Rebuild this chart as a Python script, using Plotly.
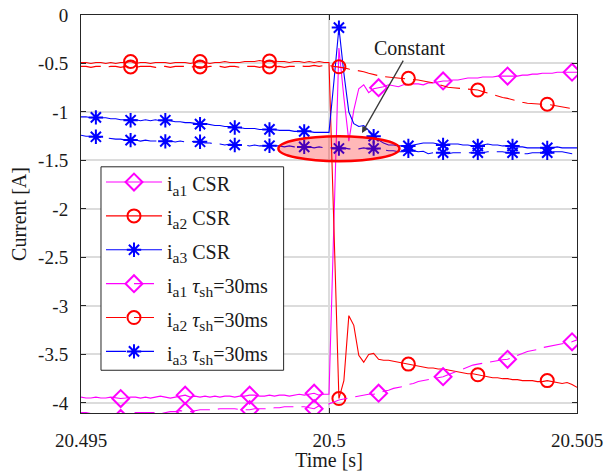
import numpy as np
import plotly.graph_objects as go

# time grid (s), 0.1 ms sampling around the switching instant
time_s = np.round(20.495 + np.arange(101) * 1e-4, 5)

ia1_csr = [-3.94, -3.95, -3.95, -3.94, -3.95, -3.95, -3.94, -3.95, -3.955, -3.95,
           -3.94, -3.94, -3.95, -3.94, -3.95, -3.94, -3.93, -3.94, -3.95, -3.94,
           -3.93, -3.92, -3.94, -3.93, -3.94, -3.93, -3.94, -3.93, -3.94, -3.93,
           -3.93, -3.94, -3.93, -3.93, -3.92, -3.92, -3.93, -3.93, -3.92, -3.93,
           -3.92, -3.92, -3.93, -3.92, -3.91, -3.92, -3.91, -3.90, -3.92, -3.91,
           -3.91, -2.10, -0.34, -0.85, -1.30, -0.98, -0.76, -0.72, -0.80, -0.76,
           -0.75, -0.74, -0.72, -0.73, -0.74, -0.72, -0.72, -0.71, -0.71, -0.72,
           -0.70, -0.70, -0.69, -0.68, -0.68, -0.67, -0.67, -0.66, -0.65, -0.65,
           -0.65, -0.64, -0.64, -0.64, -0.63, -0.63, -0.63, -0.63, -0.63, -0.62,
           -0.62, -0.61, -0.61, -0.60, -0.60, -0.60, -0.59, -0.59, -0.59, -0.59, -0.59]

ia2_csr = [-0.49, -0.49, -0.50, -0.49, -0.49, -0.50, -0.49, -0.50, -0.49, -0.49,
           -0.48, -0.50, -0.49, -0.49, -0.50, -0.49, -0.49, -0.49, -0.50, -0.49,
           -0.49, -0.49, -0.50, -0.49, -0.48, -0.49, -0.50, -0.49, -0.49, -0.48,
           -0.49, -0.49, -0.49, -0.48, -0.48, -0.48, -0.47, -0.48, -0.475, -0.48,
           -0.48, -0.48, -0.49, -0.48, -0.48, -0.49, -0.48, -0.49, -0.48, -0.49,
           -0.49, -2.20, -3.955, -3.77, -3.10, -3.20, -3.51, -3.58, -3.50, -3.49,
           -3.55, -3.56, -3.56, -3.57, -3.58, -3.59, -3.60, -3.61, -3.62, -3.63,
           -3.64, -3.64, -3.65, -3.65, -3.66, -3.67, -3.68, -3.69, -3.70, -3.70,
           -3.71, -3.72, -3.73, -3.74, -3.74, -3.75, -3.75, -3.76, -3.76, -3.77,
           -3.77, -3.77, -3.78, -3.78, -3.77, -3.78, -3.79, -3.80, -3.79, -3.81, -3.84]

ia3_csr = [-1.05, -1.05, -1.06, -1.056, -1.06, -1.06, -1.07, -1.07, -1.08, -1.08,
           -1.085, -1.08, -1.09, -1.08, -1.09, -1.08, -1.09, -1.085, -1.09, -1.10,
           -1.10, -1.11, -1.11, -1.12, -1.125, -1.12, -1.13, -1.14, -1.14, -1.15,
           -1.15, -1.16, -1.16, -1.17, -1.17, -1.17, -1.18, -1.18, -1.18, -1.18,
           -1.19, -1.19, -1.19, -1.20, -1.20, -1.20, -1.20, -1.21, -1.21, -1.21,
           -1.21, -0.68, -0.13, -0.60, -1.00, -1.12, -1.15, -1.14, -1.19, -1.25,
           -1.29, -1.32, -1.34, -1.34, -1.35, -1.35, -1.35, -1.34, -1.33, -1.32,
           -1.32, -1.32, -1.33, -1.34, -1.33, -1.33, -1.33, -1.34, -1.34, -1.35,
           -1.35, -1.34, -1.33, -1.34, -1.34, -1.35, -1.35, -1.35, -1.36, -1.36,
           -1.37, -1.37, -1.37, -1.37, -1.37, -1.37, -1.36, -1.37, -1.37, -1.37, -1.37]

ia1_tsh = [-4.10, -4.10, -4.11, -4.11, -4.12, -4.12, -4.13, -4.14, -4.16, -4.12,
           -4.10, -4.10, -4.10, -4.10, -4.10, -4.10, -4.11, -4.10, -4.09, -4.09,
           -4.08, -4.09, -4.09, -4.08, -4.07, -4.07, -4.07, -4.07, -4.06, -4.06,
           -4.06, -4.06, -4.07, -4.07, -4.07, -4.06, -4.06, -4.06, -4.06, -4.05,
           -4.05, -4.04, -4.04, -4.04, -4.04, -4.04, -4.05, -4.06, -4.03, -4.02,
           -4.01, -3.99, -3.97, -3.96, -3.95, -3.94, -3.93, -3.92, -3.91, -3.91,
           -3.90, -3.88, -3.87, -3.85, -3.84, -3.83, -3.81, -3.80, -3.78, -3.77,
           -3.76, -3.75, -3.74, -3.73, -3.71, -3.69, -3.67, -3.65, -3.63, -3.61,
           -3.60, -3.59, -3.58, -3.57, -3.56, -3.555, -3.55, -3.53, -3.51, -3.49,
           -3.47, -3.46, -3.45, -3.43, -3.42, -3.41, -3.40, -3.39, -3.38, -3.37, -3.35]

ia2_tsh = [-0.53, -0.53, -0.54, -0.53, -0.53, -0.54, -0.53, -0.53, -0.54, -0.53,
           -0.535, -0.54, -0.53, -0.53, -0.53, -0.54, -0.53, -0.53, -0.54, -0.53,
           -0.53, -0.53, -0.54, -0.53, -0.535, -0.54, -0.53, -0.53, -0.53, -0.54,
           -0.53, -0.53, -0.54, -0.53, -0.53, -0.53, -0.54, -0.53, -0.535, -0.53,
           -0.53, -0.54, -0.53, -0.53, -0.52, -0.53, -0.53, -0.52, -0.53, -0.52,
           -0.52, -0.53, -0.534, -0.545, -0.557, -0.565, -0.575, -0.585, -0.60, -0.615,
           -0.626, -0.635, -0.64, -0.645, -0.648, -0.65, -0.653, -0.66, -0.67, -0.68,
           -0.688, -0.70, -0.715, -0.73, -0.745, -0.75, -0.755, -0.76, -0.765, -0.77,
           -0.774, -0.79, -0.805, -0.826, -0.84, -0.85, -0.86, -0.875, -0.89, -0.90,
           -0.91, -0.915, -0.92, -0.92, -0.92, -0.93, -0.94, -0.95, -0.96, -0.965, -0.97]

ia3_tsh = [-1.24, -1.25, -1.25, -1.256, -1.26, -1.27, -1.27, -1.28, -1.28, -1.29,
           -1.29, -1.29, -1.30, -1.29, -1.30, -1.30, -1.30, -1.303, -1.30, -1.31,
           -1.30, -1.31, -1.30, -1.31, -1.307, -1.32, -1.32, -1.33, -1.33, -1.34,
           -1.33, -1.34, -1.34, -1.34, -1.35, -1.34, -1.35, -1.35, -1.348, -1.35,
           -1.35, -1.36, -1.35, -1.36, -1.36, -1.36, -1.36, -1.37, -1.36, -1.37,
           -1.37, -1.37, -1.376, -1.37, -1.38, -1.38, -1.38, -1.37, -1.38, -1.376,
           -1.38, -1.39, -1.40, -1.40, -1.41, -1.41, -1.40, -1.40, -1.41, -1.405,
           -1.43, -1.42, -1.42, -1.42, -1.43, -1.42, -1.42, -1.42, -1.42, -1.42,
           -1.42, -1.42, -1.41, -1.41, -1.41, -1.41, -1.42, -1.42, -1.43, -1.43,
           -1.43, -1.42, -1.42, -1.42, -1.42, -1.41, -1.41, -1.41, -1.42, -1.43, -1.43]

# sample indices that carry a marker (every 13 / 14 / 7 samples)
marker_idx_a1 = [8, 21, 34, 47, 60, 73, 86, 99]
marker_idx_a2 = [10, 24, 38, 52, 66, 80, 94]
marker_idx_a3 = [3, 10, 17, 24, 31, 38, 45, 52, 59, 66, 73, 80, 87, 94]

x_ticks = [20.495, 20.5, 20.505]
x_ticktext = ["20.495", "20.5", "20.505"]
y_ticks = [-4, -3.5, -3, -2.5, -2, -1.5, -1, -0.5, 0]
y_ticktext = ["-4", "-3.5", "-3", "-2.5", "-2", "-1.5", "-1", "-0.5", "0"]

MAG, RED, BLUE = "#FF00FF", "#FF0000", "#0000FF"
DASH = "20px,8px"

SUB = '<sub><span style="font-size:15.5px">%s</span></sub>'
series = [
    (ia1_csr, "i" + SUB % "a1" + " CSR", MAG, "solid", "diamond-open", 13, marker_idx_a1),
    (ia2_csr, "i" + SUB % "a2" + " CSR", RED, "solid", "circle-open", 13, marker_idx_a2),
    (ia3_csr, "i" + SUB % "a3" + " CSR", BLUE, "solid", "asterisk-open", 12, marker_idx_a3),
    (ia1_tsh, "i" + SUB % "a1" + " <i>τ</i>" + SUB % "sh" + "=30ms", MAG, DASH, "diamond-open", 13, marker_idx_a1),
    (ia2_tsh, "i" + SUB % "a2" + " <i>τ</i>" + SUB % "sh" + "=30ms", RED, DASH, "circle-open", 13, marker_idx_a2),
    (ia3_tsh, "i" + SUB % "a3" + " <i>τ</i>" + SUB % "sh" + "=30ms", BLUE, DASH, "asterisk-open", 12, marker_idx_a3),
]

fig = go.Figure()
for vals, name, color, dash, sym, msize, idx in series:
    v = np.array(vals)
    mk = dict(symbol=sym, size=msize, color=color, line=dict(color=color, width=2))
    ln = dict(color=color, width=1.1, dash=dash)
    fig.add_trace(go.Scatter(x=time_s, y=v, mode="lines", line=ln,
                             showlegend=False, hoverinfo="skip"))
    fig.add_trace(go.Scatter(x=time_s[idx], y=v[idx], mode="markers", marker=mk,
                             showlegend=False, hoverinfo="skip"))
    fig.add_trace(go.Scatter(x=[None], y=[None], mode="lines+markers", line=ln, marker=mk,
                             name='<span style="font-size:20px">' + name + "</span>"))

AX = "#262626"
GRID = "#DCDCDC"
fig.update_layout(
    width=616, height=471,
    margin=dict(l=81, r=39, t=15, b=58, autoexpand=False),
    paper_bgcolor="white", plot_bgcolor="white",
    font=dict(family="Liberation Serif", size=19, color="#1a1a1a"),
    xaxis=dict(range=[20.495, 20.505], tickvals=x_ticks, ticktext=x_ticktext,
               automargin=False,
               showgrid=True, gridcolor=GRID, gridwidth=1.5, zeroline=False,
               showline=True, linecolor=AX, linewidth=1, mirror="ticks",
               ticks="inside", ticklen=5, tickcolor=AX, ticklabelstandoff=10,
               title=dict(text="Time [s]", font=dict(size=20), standoff=1)),
    yaxis=dict(range=[-4.104, 0], tickvals=y_ticks, ticktext=y_ticktext,
               automargin=False,
               showgrid=True, gridcolor=GRID, gridwidth=1.5, zeroline=False,
               showline=True, linecolor=AX, linewidth=1, mirror="ticks",
               ticks="inside", ticklen=5, tickcolor=AX, ticklabelstandoff=8,
               title=dict(text="Current [A]", font=dict(size=20), standoff=6)),
    legend=dict(x=0.0403, y=0.6354, xanchor="left", yanchor="top",
                bgcolor="rgba(0,0,0,0)", borderwidth=0,
                font=dict(family="Liberation Serif", size=23.75, color="#1a1a1a"),
                itemwidth=56, tracegroupgap=0),
    showlegend=True,
)

# legend frame
fig.add_shape(type="rect", xref="paper", yref="paper",
              x0=0.0403, x1=0.4085, y0=0.1074, y1=0.6186,
              line=dict(color=AX, width=1), fillcolor="white", layer="above")

fig.add_shape(type="circle", xref="x", yref="y",
              x0=20.49898, x1=20.50142, y0=-1.249, y1=-1.507,
              line=dict(color=RED, width=2.5), fillcolor="rgba(255,0,0,0.28)",
              layer="above")

fig.add_annotation(x=20.500665, y=-1.218, ax=20.50164, ay=-0.341,
                   xref="x", yref="y", axref="x", ayref="y",
                   text="Constant", font=dict(size=20, color="#1a1a1a"),
                   showarrow=True, arrowhead=2, arrowsize=1, arrowwidth=1.3,
                   arrowcolor="#3a3a3a")

fig.write_html("out.html", config={"displayModeBar": False},
               post_script="document.body.style.margin='0px';document.body.style.overflow='hidden';")
